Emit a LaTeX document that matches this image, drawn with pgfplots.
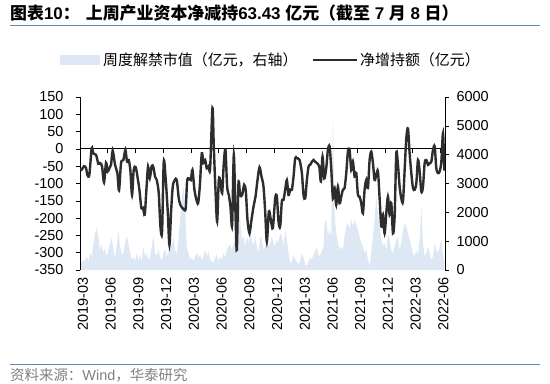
\documentclass[border=0pt]{standalone}
\usepackage{fontspec}
\usepackage{pgfplots}
\usepackage{pgfplotstable}
\pgfplotsset{compat=1.18}
\setmainfont{Liberation Sans}
\newfontfamily\cjk{Noto Sans CJK SC}
\definecolor{areablue}{RGB}{221,232,244}
\definecolor{lineblk}{RGB}{45,45,45}
\definecolor{rulebl}{RGB}{96,134,190}
\definecolor{srcgray}{RGB}{128,128,128}

% net increase of holdings (100m yuan), x = position along the time axis
\pgfplotstableread{
x y
240 -56
245 -60
252 -50
258 -55
262 -75
268 -75
275 2
280 -13
288 -17
295 -43
300 -41
306 -50
312 -97
318 -40
323 -65
328 -56
333 -46
338 -5
345 -46
352 -70
357 -120
363 -41
370 -32
376 -3
381 -37
386 -32
391 -63
396 -133
401 -61
407 -53
413 -85
418 -118
424 -171
429 -171
434 -190
439 -118
444 -51
449 -85
455 -49
460 -53
465 -80
470 -90
476 -128
481 -224
486 -239
491 -37
497 -90
503 -181
508 -277
513 -181
518 -109
524 -90
530 -90
536 -143
541 -162
547 -171
552 -176
557 -171
561 -94
566 -85
572 -90
577 -61
583 -118
589 -147
594 -157
599 -109
605 -13
610 -41
615 -32
620 -56
625 -51
630 -56
637 118
641 7
646 -118
651 -210
656 -90
661 -94
666 -128
671 -41
676 -3
681 -109
686 -133
691 -167
696 -220
701 -17
706 -186
710 -292
715 -99
720 -133
726 -133
732 -104
737 -123
742 -205
748 -244
754 -205
760 -167
766 -138
772 -90
778 -53
784 -80
790 -109
795 -181
800 -268
806 -181
812 -205
818 -229
825 -143
830 -138
835 -210
840 -224
845 -152
850 -147
855 -118
860 -90
865 -133
870 -118
875 -118
880 -80
885 -27
890 -27
898 -32
905 -70
910 -133
915 -143
920 -90
925 -51
930 -46
935 -37
940 -32
945 -37
950 -41
957 -51
962 -94
967 -22
972 -85
978 -56
983 -3
988 7
993 -56
998 -143
1003 -113
1008 -162
1013 -109
1018 -157
1023 -138
1028 -118
1033 -113
1038 -70
1043 -8
1048 -3
1053 -61
1058 -37
1063 -80
1068 -70
1073 -133
1078 -138
1083 -157
1088 -186
1093 -118
1098 -90
1103 -113
1108 -32
1113 -8
1118 -41
1123 -90
1128 -75
1133 -65
1138 -143
1143 -224
1148 -190
1153 -244
1158 -186
1163 -138
1168 -190
1173 -157
1178 -244
1183 -195
1188 -13
1193 -46
1198 -109
1203 -143
1208 -152
1213 -61
1218 31
1223 59
1228 -13
1233 -70
1238 -113
1243 -118
1248 -99
1253 -32
1258 -65
1263 -123
1268 -109
1273 -41
1278 -32
1283 -46
1288 -41
1293 -37
1298 -3
1303 7
1308 -56
1313 -70
1318 -65
1323 -37
1328 45
1332 -63
}\linedata

% weekly unlock market value (100m yuan, right axis)
\pgfplotstableread{
x y
240 300
245 240
250 360
255 300
260 470
265 300
270 590
275 470
280 880
285 1280
290 1460
295 1170
300 700
305 880
310 590
315 760
320 470
325 700
330 940
335 1110
340 700
345 420
350 820
355 1400
360 820
365 530
370 590
375 940
380 1170
385 940
390 590
395 360
400 470
405 300
410 590
415 300
420 530
425 300
430 820
435 470
440 590
445 360
450 470
455 820
460 1170
465 590
470 470
475 700
480 470
485 300
490 590
495 700
500 470
505 590
510 940
515 820
520 1170
525 700
530 530
535 1050
540 1750
545 2440
550 2900
555 2210
560 820
565 590
570 360
575 420
580 300
585 470
590 590
595 420
600 530
605 360
610 470
615 700
620 470
625 640
630 360
635 300
640 240
645 420
650 530
655 300
660 470
665 360
670 590
675 420
680 700
685 820
690 880
695 700
700 940
705 1050
710 1510
715 3130
720 1750
725 1050
730 1170
735 820
740 1170
745 940
750 1280
755 1050
760 820
765 1170
770 820
775 590
780 1170
785 1050
790 700
795 820
800 1050
805 820
810 940
815 1170
820 940
825 820
830 1050
835 940
840 1280
845 1170
850 820
855 1400
860 1050
865 590
870 240
875 300
880 530
885 360
890 300
895 190
900 300
905 590
910 420
915 190
920 130
925 300
930 420
935 360
940 530
945 650
950 820
955 470
960 530
965 650
970 820
973 1630
978 1750
983 1170
988 1400
993 1170
998 5400
1003 1980
1008 1280
1013 940
1018 700
1023 820
1028 700
1033 1170
1038 1510
1043 1630
1048 1400
1053 1750
1058 1510
1063 1750
1068 1570
1073 1400
1078 1170
1083 940
1088 820
1093 590
1098 700
1103 360
1108 130
1113 590
1118 1170
1123 1750
1128 2550
1133 1980
1138 1510
1143 1050
1148 820
1153 940
1158 700
1163 1280
1168 1050
1173 700
1178 590
1183 820
1188 1050
1193 1170
1198 700
1203 940
1208 1400
1213 1630
1218 1510
1223 1280
1228 1050
1233 820
1238 590
1243 470
1248 700
1253 530
1258 1050
1263 2210
1268 940
1273 470
1278 590
1283 820
1288 590
1293 360
1298 470
1303 940
1308 700
1313 590
1318 820
1323 1050
1328 470
1332 300
}\areadata

\pgfplotsset{
  common/.style={
    at={(80bp,113bp)}, anchor=south west,
    scale only axis, width=365bp, height=173bp,
    xmin=240, xmax=1334,
    /pgf/number format/assume math mode=true,
    tick label style={font=\fontsize{14.5}{15}\selectfont},
    major tick length=4bp,
    tick style={black, line width=0.6bp},
    axis line style={black, line width=0.8bp},
  },
}
\def\qticks{240,323.1,406.2,489.3,572.4,655.5,738.6,821.7,904.8,987.9,1071,1154.1,1237.2,1320.3}

\begin{document}
\begin{tikzpicture}[x=1bp,y=1bp]
\useasboundingbox (0,0) rectangle (550,383);

% right axis with the area
\begin{axis}[common,
  ymin=0, ymax=6000, ytick={0,1000,...,6000},
  axis y line*=right, axis x line=none, tick align=outside,
  scaled y ticks=false,
  yticklabel style={/pgf/number format/1000 sep={}, xshift=4bp},
]
\addplot[fill=areablue, draw=none] table[x=x,y=y]{\areadata} \closedcycle;
\end{axis}

% zero line with quarter ticks
\begin{axis}[common,
  ymin=-350, ymax=150,
  axis y line=none, axis x line=middle, axis line style={-},
  xtick/.expand once=\qticks, xticklabels={}, tick align=outside,
]
\addplot[draw=none] coordinates {(240,0)};
\end{axis}

% left axis with the line
\begin{axis}[common,
  ymin=-350, ymax=150, ytick={-350,-300,...,150},
  axis y line*=left, axis x line*=bottom,
  x axis line style={draw=none}, xtick style={draw=none},
  tick align=outside,
  yticklabel style={xshift=-9bp},
  xtick/.expand once=\qticks,
  xticklabels={2019-03,2019-06,2019-09,2019-12,2020-03,2020-06,2020-09,2020-12,2021-03,2021-06,2021-09,2021-12,2022-03,2022-06},
  xticklabel style={rotate=90, anchor=east, yshift=-3bp},
]
\addplot[lineblk, line width=2.4bp, smooth, tension=0.5] table[x=x,y=y]{\linedata};
\end{axis}

% title
\node[anchor=base west, inner sep=0, font=\fontsize{17}{18}\selectfont\bfseries] at (10,364)
  {{\cjk 图表}10{\cjk ：}\hspace{6bp}{\cjk 上周产业资本净减持}63.43 {\cjk 亿元（截至} 7 {\cjk 月} 8 {\cjk 日）}};
\draw[rulebl, line width=1bp] (10,357.4) -- (540,357.4);

% legend
\fill[areablue] (60,318) rectangle (100,328);
\node[anchor=base west, inner sep=0, font=\cjk\fontsize{15}{16}\selectfont] at (103,317.5) {周度解禁市值（亿元，右轴）};
\draw[lineblk, line width=2.4bp] (313,323) -- (357,323);
\node[anchor=base west, inner sep=0, font=\cjk\fontsize{15}{16}\selectfont] at (360,317.5) {净增持额（亿元）};

% source
\draw[rulebl, line width=1bp] (10,18.4) -- (540,18.4);
\node[anchor=base west, inner sep=0, text=srcgray, font=\fontsize{14.5}{15}\selectfont] at (10,2.5)
  {{\cjk 资料来源：}Wind{\cjk ，华泰研究}};
\end{tikzpicture}
\end{document}
